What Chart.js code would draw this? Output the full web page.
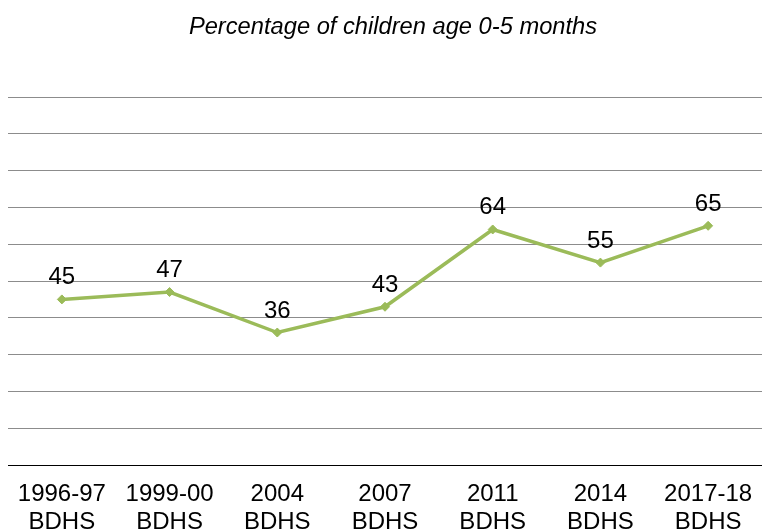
<!DOCTYPE html>
<html>
<head>
<meta charset="utf-8">
<script src="https://cdn.jsdelivr.net/npm/chart.js@4/dist/chart.umd.min.js"></script>
<style>
html,body{margin:0;padding:0;background:#fff;}
#wrap{width:762px;height:531px;position:relative;}
</style>
</head>
<body>
<div id="wrap"><canvas id="c" width="762" height="531"></canvas></div>
<script>
const categories = [["1996-97","BDHS"],["1999-00","BDHS"],["2004","BDHS"],["2007","BDHS"],["2011","BDHS"],["2014","BDHS"],["2017-18","BDHS"]];
const values = [45, 47, 36, 43, 64, 55, 65];
const titleText = "Percentage of children age 0-5 months";
const yMin = 0, yMax = 100, yStep = 10;

const FONT = "'Liberation Sans', Arial, sans-serif";

const overlay = {
  id: 'overlay',
  afterDatasetsDraw(chart) {
    const ctx = chart.ctx;
    ctx.save();
    ctx.fillStyle = '#000';
    ctx.font = "24px " + FONT;
    ctx.textAlign = 'center';
    ctx.textBaseline = 'alphabetic';
    const meta = chart.getDatasetMeta(0);
    meta.data.forEach((pt, i) => {
      ctx.fillText(String(values[i]), pt.x, pt.y - 15);
    });
    ctx.font = "italic 23.7px " + FONT;
    ctx.textBaseline = 'middle';
    ctx.fillText(titleText, 393, 27);
    ctx.restore();
  }
};

new Chart(document.getElementById('c'), {
  type: 'line',
  data: {
    labels: categories,
    datasets: [{
      data: values,
      borderColor: '#9BBB59',
      backgroundColor: '#9BBB59',
      borderWidth: 3.5,
      pointStyle: 'rectRot',
      pointRadius: 4.5,
      pointBorderWidth: 1,
      tension: 0
    }]
  },
  options: {
    responsive: false,
    animation: false,
    layout: { autoPadding: false, padding: { top: 97, left: 8, right: 0, bottom: 0 } },
    plugins: { legend: { display: false }, title: { display: false }, tooltip: { enabled: false } },
    scales: {
      x: {
        offset: true,
        grid: { display: false, drawTicks: false },
        border: { display: true, color: '#000', width: 1 },
        ticks: { color: '#000', font: { family: FONT, size: 24, lineHeight: 1.14 }, padding: 16, maxRotation: 0, autoSkip: false },
        afterFit(s) { s.height = 66; s.paddingLeft = 0; s.paddingRight = 0; }
      },
      y: {
        min: yMin, max: yMax,
        ticks: { display: false, stepSize: yStep },
        grid: { color: (c) => c.tick && c.tick.value === 0 ? '#000' : '#8c8c8c', lineWidth: 1, drawTicks: false },
        border: { display: false },
        afterFit(s) { s.width = 0; s.paddingTop = 0; s.paddingBottom = 0; }
      }
    }
  },
  plugins: [overlay]
});
</script>
</body>
</html>
